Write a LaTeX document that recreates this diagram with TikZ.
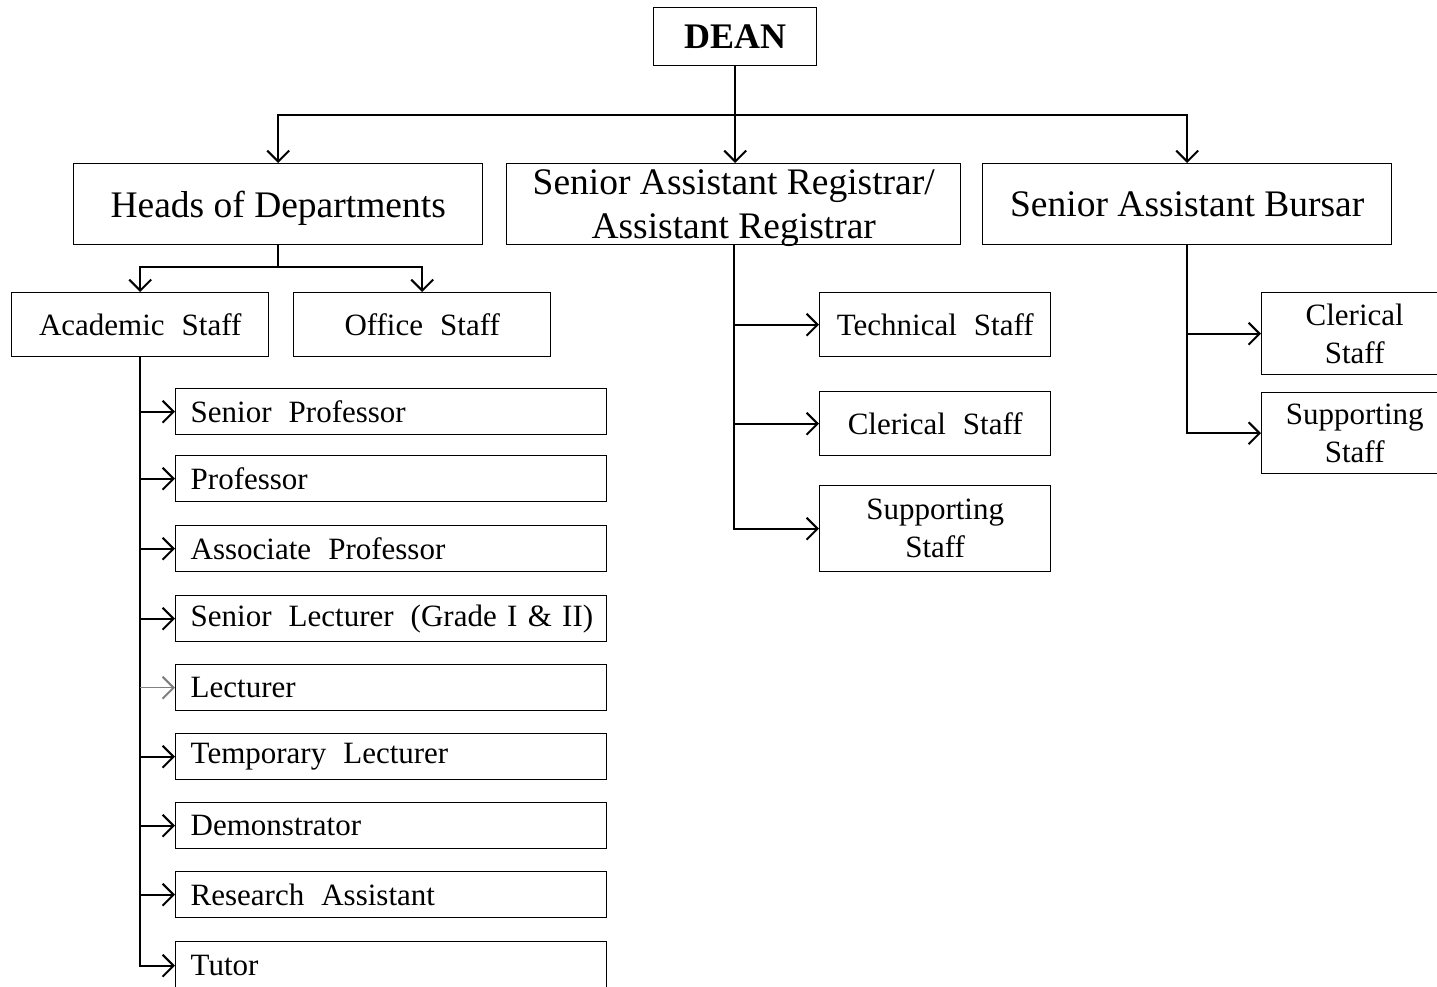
\documentclass[tikz,border=0pt]{standalone}
\usepackage{fontspec}
\setmainfont{Liberation Serif}
\usetikzlibrary{arrows.meta}
\newcommand{\wsp}{\hspace{0.55em}}
\begin{document}
\begin{tikzpicture}[x=1pt,y=-1pt,
  box/.style={draw=black,line width=1.4pt,rectangle,inner sep=0pt,anchor=north west,align=center},
  topbox/.style={box,font=\fontsize{37.5}{44}\selectfont,text depth=0pt},
  midbox/.style={box,font=\fontsize{31}{38}\selectfont},
  listbox/.style={box,font=\fontsize{31}{38}\selectfont,minimum width=431pt,minimum height=46pt,text width=411pt,inner xsep=10pt,align=left},
  conn/.style={line width=2pt,draw=black},
  arr/.style={conn,-{Straight Barb[length=11pt,width=22pt,line width=2pt]}}
]
\useasboundingbox (0,0) rectangle (1437,986);
\clip (0,0) rectangle (1437,986);
\fill[white] (0,0) rectangle (1437,986);

% top level
\node[topbox,minimum width=163pt,minimum height=58pt,font=\fontsize{36}{43}\selectfont\bfseries] (dean) at (653,7) {DEAN};
\node[topbox,minimum width=409pt,minimum height=81pt] (hod) at (73,163) {Heads of Departments};
\node[topbox,minimum width=454pt,minimum height=81pt] (sar) at (506,163) {Senior Assistant Registrar/\\[0pt]Assistant Registrar};
\node[topbox,minimum width=409pt,minimum height=81pt] (sab) at (982,163) {Senior Assistant Bursar};
\path (dean.south) ++(0,49) coordinate (bus);

\draw[conn] (dean.south) -- (bus);
\draw[arr] (bus) -| (hod.north);
\draw[arr] (bus) -- (bus |- sar.north);
\draw[arr] (bus) -| (sab.north);

% heads of departments
\node[midbox,minimum width=257pt,minimum height=64pt] (acad) at (11,292) {Academic\wsp Staff};
\node[midbox,minimum width=257pt,minimum height=64pt] (off) at (293,292) {Office\wsp Staff};
\path (hod.south) ++(0,22) coordinate (hodj);
\draw[conn] (hod.south) -- (hodj);
\draw[arr] (hodj) -| (acad.north);
\draw[arr] (hodj) -| (off.north);

% academic list
\node[listbox] (l1) at (175,388) {\hspace{5pt}Senior\wsp Professor};
\node[listbox] (l2) at (175,455) {\hspace{5pt}Professor};
\node[listbox] (l3) at (175,525) {\hspace{5pt}Associate\wsp Professor};
\node[listbox] (l4) at (175,595) {\hspace{5pt}Senior\wsp Lecturer\wsp (Grade I \& II)};
\node[listbox] (l5) at (175,664) {\hspace{5pt}Lecturer};
\node[listbox] (l6) at (175,733) {\hspace{5pt}Temporary\wsp Lecturer};
\node[listbox] (l7) at (175,802) {\hspace{5pt}Demonstrator};
\node[listbox] (l8) at (175,871) {\hspace{5pt}Research\wsp Assistant};
\node[listbox,minimum height=48pt] (l9) at (175,941) {\hspace{5pt}Tutor};

\draw[arr] (acad.south) |- (l9.west);
\foreach \n in {l1,l2,l3,l4,l6,l7,l8}{
  \draw[arr] (acad.south |- \n.west) -- (\n.west);
}
\draw[arr,draw=black!50,line width=1.4pt] (acad.south |- l5.west) -- (l5.west);

% registrar branch
\node[midbox,minimum width=231pt,minimum height=64pt] (tech) at (819,292) {Technical\wsp Staff};
\node[midbox,minimum width=231pt,minimum height=64pt] (cler1) at (819,391) {Clerical\wsp Staff};
\node[midbox,minimum width=231pt,minimum height=86pt] (supp1) at (819,485) {Supporting\\Staff};
\draw[arr] (sar.south) |- (supp1.west);
\draw[arr] (sar.south |- tech.west) -- (tech.west);
\draw[arr] (sar.south |- cler1.west) -- (cler1.west);

% bursar branch
\node[midbox,minimum width=186pt,minimum height=82pt] (cler2) at (1261,292) {Clerical\\Staff};
\node[midbox,minimum width=186pt,minimum height=81pt] (supp2) at (1261,392) {Supporting\\Staff};
\draw[arr] (sab.south) |- (supp2.west);
\draw[arr] (sab.south |- cler2.west) -- (cler2.west);
\end{tikzpicture}
\end{document}
